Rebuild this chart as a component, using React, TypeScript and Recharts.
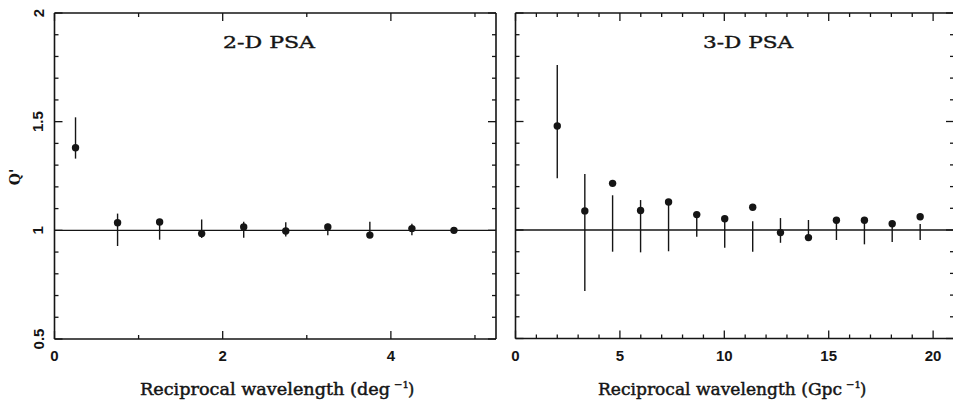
import React from "react";
import { ScatterChart, Scatter, XAxis, YAxis, ErrorBar, ReferenceLine } from "recharts";

// ---- data ----
const leftX = [0.25, 0.75, 1.25, 1.75, 2.25, 2.75, 3.25, 3.75, 4.25, 4.75];
const leftQ = [1.38, 1.035, 1.038, 0.985, 1.015, 0.997, 1.015, 0.978, 1.008, 1.0];
const leftLo = [1.33, 0.928, 0.957, 0.965, 0.966, 0.972, 0.977, 0.97, 0.977, 0.99];
const leftHi = [1.52, 1.077, 1.045, 1.05, 1.04, 1.037, 1.03, 1.04, 1.03, 1.01];

const rightX = [2.0, 3.32, 4.65, 5.99, 7.33, 8.68, 10.02, 11.36, 12.69, 14.03, 15.37, 16.71, 18.04, 19.38];
const rightQ = [1.479, 1.088, 1.215, 1.09, 1.129, 1.071, 1.052, 1.105, 0.988, 0.965, 1.045, 1.045, 1.029, 1.061];
const rightLo = [1.238, 0.719, 0.9, 0.897, 0.902, 0.969, 0.918, 0.9, 0.941, 0.96, 0.954, 0.934, 0.945, 0.954];
const rightHi = [1.76, 1.258, 1.16, 1.138, 1.129, 1.071, 1.052, 1.04, 1.055, 1.046, 1.045, 1.045, 1.029, 1.028];

const refQ = 1;

const yTicks = [0.5, 0.6, 0.7, 0.8, 0.9, 1.0, 1.1, 1.2, 1.3, 1.4, 1.5, 1.6, 1.7, 1.8, 1.9, 2.0];
const yMajor = [0.5, 1.0, 1.5, 2.0];
const yLabels: Record<string, string> = { "0.5": "0.5", "1": "1", "1.5": "1.5", "2": "2" };

const leftXTicks = [0, 1, 2, 3, 4, 5];
const leftXMajor = [0, 2, 4];
const leftDomain = [0, 5.25];

const rightXTicks = [0, 1, 2, 3, 4, 5, 6, 7, 8, 9, 10, 11, 12, 13, 14, 15, 16, 17, 18, 19, 20, 21];
const rightXMajor = [0, 5, 10, 15, 20];
const rightDomain = [0, 21];

const titles = ["2-D PSA", "3-D PSA"];
const xLabelUnits = ["deg", "Gpc"];
const yLabel = "Q'";

// ---- helpers ----
const INK = "#151515";
const SERIF = "DejaVu Serif";
const SANS = "Liberation Sans";
const isMajor = (v: number, list: number[]) => list.some((m) => Math.abs(m - v) < 1e-6);

function build(xs: number[], qs: number[], lo: number[], hi: number[]) {
  return xs.map((x, i) => ({ x, q: qs[i], err: [qs[i] - lo[i], hi[i] - qs[i]] }));
}
const leftData = build(leftX, leftQ, leftLo, leftHi);
const rightData = build(rightX, rightQ, rightLo, rightHi);

const MAJ = 8;
const MIN = 4;

const makeXTick = (majors: number[], side: "bottom" | "top", label: boolean) => (p: any) => {
  const v = p.payload.value;
  const len = isMajor(v, majors) ? MAJ : MIN;
  const dir = side === "bottom" ? -1 : 1;
  return (
    <g>
      <line x1={p.x} y1={p.y} x2={p.x} y2={p.y + dir * len} stroke={INK} strokeWidth={1.3} />
      {label && isMajor(v, majors) ? (
        <text x={p.x} y={p.y + 22} textAnchor="middle" fontFamily={SANS} fontWeight="bold" fontSize={15} fill={INK}>
          {String(v)}
        </text>
      ) : null}
    </g>
  );
};

const makeYTick = (side: "left" | "right", label: boolean) => (p: any) => {
  const v = p.payload.value;
  const len = isMajor(v, yMajor) ? MAJ : MIN;
  const dir = side === "left" ? 1 : -1;
  const key = String(Math.round(v * 10) / 10);
  const lx = p.x - 11;
  return (
    <g>
      <line x1={p.x} y1={p.y} x2={p.x + dir * len} y2={p.y} stroke={INK} strokeWidth={1.3} />
      {label && isMajor(v, yMajor) ? (
        <text
          x={lx}
          y={p.y}
          transform={`rotate(-90, ${lx}, ${p.y})`}
          textAnchor="middle"
          fontFamily={SANS}
          fontWeight="bold"
          fontSize={15}
          fill={INK}
        >
          {yLabels[key]}
        </text>
      ) : null}
    </g>
  );
};

const Dot = (p: any) => <circle cx={p.cx} cy={p.cy} r={3.7} fill={INK} />;

function Panel(props: {
  width: number;
  margin: { top: number; right: number; bottom: number; left: number };
  data: any[];
  xTicks: number[];
  xMajor: number[];
  domain: number[];
  yLabelsOn: boolean;
}) {
  const { width, margin, data, xTicks, xMajor, domain, yLabelsOn } = props;
  const common = {
    type: "number" as const,
    allowDataOverflow: true,
    interval: 0 as const,
    tickSize: 0,
    tickMargin: 0,
    axisLine: { stroke: INK, strokeWidth: 1.6 },
    tickLine: false,
  };
  return (
    <ScatterChart width={width} height={401} margin={margin}>
      <XAxis
        {...common}
        xAxisId="b"
        dataKey="x"
        orientation="bottom"
        domain={domain}
        ticks={xTicks}
        height={1}
        tick={makeXTick(xMajor, "bottom", true)}
      />
      <XAxis
        {...common}
        xAxisId="t"
        dataKey="x"
        orientation="top"
        domain={domain}
        ticks={xTicks}
        height={1}
        tick={makeXTick(xMajor, "top", false)}
      />
      <YAxis
        {...common}
        yAxisId="l"
        dataKey="q"
        orientation="left"
        domain={[0.5, 2]}
        ticks={yTicks}
        width={1}
        tick={makeYTick("left", yLabelsOn)}
      />
      <YAxis
        {...common}
        yAxisId="r"
        dataKey="q"
        orientation="right"
        domain={[0.5, 2]}
        ticks={yTicks}
        width={1}
        tick={makeYTick("right", false)}
      />
      <ReferenceLine xAxisId="b" yAxisId="l" y={refQ} stroke={INK} strokeWidth={1.4} ifOverflow="hidden" />
      <Scatter xAxisId="b" yAxisId="l" data={data} dataKey="q" shape={Dot} isAnimationActive={false}>
        <ErrorBar dataKey="err" direction="y" width={0} stroke={INK} strokeWidth={1.4} isAnimationActive={false} />
      </Scatter>
    </ScatterChart>
  );
}

const XLabel = ({ x, width, unit }: { x: number; width: number; unit: string }) => (
  <g fontFamily={SERIF} fill={INK} stroke={INK} strokeWidth={0.45}>
    <text x={x} y={395} fontSize={16} textLength={width} lengthAdjust="spacingAndGlyphs">
      {`Reciprocal wavelength (${unit}`}
    </text>
    <text x={x + width + 4} y={388} fontSize={10}>
      −1
    </text>
    <text x={x + width + 18} y={395} fontSize={16}>
      )
    </text>
  </g>
);

export default function App() {
  return (
    <div style={{ position: "absolute", left: 0, top: 0, width: 953, height: 401, overflow: "hidden", background: "#fff" }}>
      <div style={{ position: "absolute", left: 0, top: 0 }}>
        <Panel
          width={500}
          margin={{ top: 12, left: 53.5, right: 3, bottom: 61 }}
          data={leftData}
          xTicks={leftXTicks}
          xMajor={leftXMajor}
          domain={leftDomain}
          yLabelsOn={true}
        />
      </div>
      <div style={{ position: "absolute", left: 480, top: 0 }}>
        <Panel
          width={480}
          margin={{ top: 12, left: 34.5, right: 5, bottom: 61.5 }}
          data={rightData}
          xTicks={rightXTicks}
          xMajor={rightXMajor}
          domain={rightDomain}
          yLabelsOn={false}
        />
      </div>
      <svg width={953} height={401} style={{ position: "absolute", left: 0, top: 0, pointerEvents: "none" }}>
        <g fontFamily={SERIF} fill={INK} stroke={INK} strokeWidth={0.4}>
          <text x={223} y={48} fontSize={17} textLength={92} lengthAdjust="spacingAndGlyphs">
            {titles[0]}
          </text>
          <text x={703} y={48} fontSize={17} textLength={90} lengthAdjust="spacingAndGlyphs">
            {titles[1]}
          </text>
        </g>
        <text
          x={20}
          y={177}
          transform="rotate(-90, 20, 177)"
          textAnchor="middle"
          fontFamily={SERIF}
          fontSize={14}
          fontWeight="bold"
          fill={INK}
        >
          {yLabel}
        </text>
        <XLabel x={140} width={250} unit={xLabelUnits[0]} />
        <XLabel x={598} width={244} unit={xLabelUnits[1]} />
      </svg>
    </div>
  );
}
